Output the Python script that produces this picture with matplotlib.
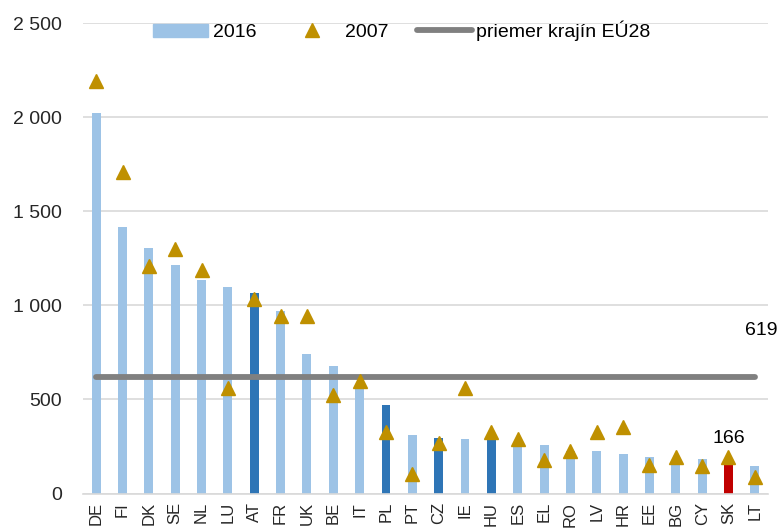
import matplotlib.pyplot as plt
from matplotlib.ticker import FuncFormatter
from matplotlib.patches import Patch

plt.rcParams['font.family'] = ['Liberation Sans', 'DejaVu Sans']

# údaje
krajiny = ['DE', 'FI', 'DK', 'SE', 'NL', 'LU', 'AT', 'FR', 'UK', 'BE', 'IT', 'PL', 'PT', 'CZ',
           'IE', 'HU', 'ES', 'EL', 'RO', 'LV', 'HR', 'EE', 'BG', 'CY', 'SK', 'LT']
hodnoty_2016 = [2020, 1418, 1304, 1212, 1136, 1097, 1065, 971, 740, 678, 575, 471, 311, 295,
                290, 290, 262, 256, 228, 226, 208, 194, 180, 183, 166, 146]
hodnoty_2007 = [2190, 1710, 1207, 1299, 1185, 560, 1035, 944, 945, 524, 600, 329, 104, 270,
                558, 329, 288, 178, 228, 326, 355, 152, 196, 146, 193, 89]
priemer_eu = 619

svetla = '#9DC3E6'
tmava = '#2E75B6'
cervena = '#C00000'
farby = []
for k in krajiny:
    if k in ('AT', 'PL', 'CZ', 'HU'):
        farby.append(tmava)
    elif k == 'SK':
        farby.append(cervena)
    else:
        farby.append(svetla)

fig = plt.figure(figsize=(7.8, 5.31), dpi=100)
ax = fig.add_axes([83 / 780, 1 - 493.5 / 531, 685 / 780, 470.5 / 531])

x = list(range(len(krajiny)))
ax.bar(x, hodnoty_2016, width=0.34, color=farby, zorder=2)
trojuholniky, = ax.plot(x, hodnoty_2007, linestyle='none', marker='^', markersize=10,
                        color='#BF9000', zorder=4)
ciara, = ax.plot([x[0], x[-1]], [priemer_eu, priemer_eu], color='#808080', linewidth=4.2,
                 solid_capstyle='round', zorder=3)

ax.text(x[-1] + 0.25, priemer_eu + 245, str(priemer_eu), fontsize=14, ha='center', va='center')
sk = krajiny.index('SK')
ax.text(sk, hodnoty_2016[sk] + 125, str(hodnoty_2016[sk]), fontsize=14, ha='center', va='center')

ax.set_xlim(-0.5, len(krajiny) - 0.5)
ax.set_ylim(0, 2500)
ax.set_yticks([0, 500, 1000, 1500, 2000, 2500])
ax.yaxis.set_major_formatter(FuncFormatter(lambda v, p: f'{int(v):,}'.replace(',', ' ')))
ax.set_xticks(x)
ax.set_xticklabels(krajiny, rotation=90)
ax.tick_params(axis='both', length=0, colors='#262626')
ax.tick_params(axis='y', pad=15, labelsize=14)
ax.tick_params(axis='x', pad=6, labelsize=12)
ax.grid(axis='y', color='#D9D9D9', linewidth=1.2, zorder=0)
ax.set_axisbelow(True)
for s in ['left', 'right', 'top']:
    ax.spines[s].set_visible(False)
ax.spines['bottom'].set_color('#D9D9D9')
ax.spines['bottom'].set_linewidth(1.2)

handles = [Patch(color=svetla), trojuholniky, ciara]
labels = ['2016', '2007', 'priemer krajín EÚ28']
fig.legend(handles, labels, loc='center', bbox_to_anchor=(402 / 780, 1 - 31 / 531), ncol=3,
           frameon=False, fontsize=14, handlelength=2.8, handletextpad=0.25, columnspacing=1.5)

fig.savefig('out.png', dpi=100)
